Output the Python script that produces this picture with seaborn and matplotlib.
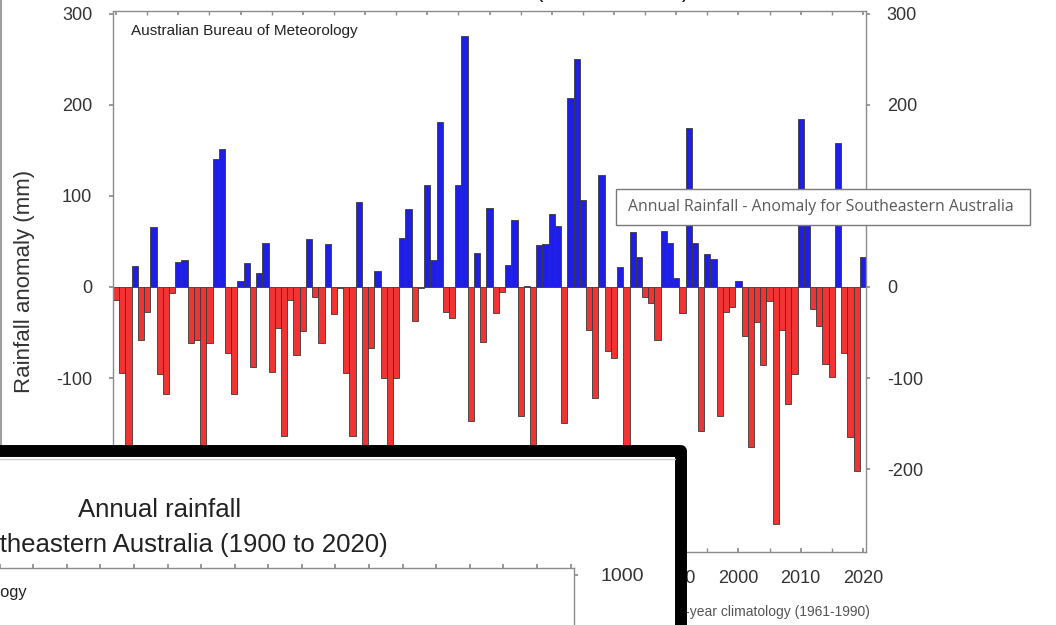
import numpy as np
import pandas as pd
import matplotlib
matplotlib.use("agg")
import matplotlib.pyplot as plt
import seaborn as sns
from matplotlib.patches import Rectangle
from matplotlib.lines import Line2D

W, H = 1056, 625

years = list(range(1900, 2021))
anomaly = [
    -14, -94, -225, 23, -58, -28, 66, -96, -118, -7,
    27, 30, -61, -58, -235, -62, 140, 151, -72, -118,
    7, 26, -88, 15, 48, -93, -45, -164, -14, -75,
    -48, 53, -11, -62, 47, -30, -1, -94, -164, 93,
    -205, -67, 17, -100, -215, -100, 54, 86, -37, -1,
    112, 30, 181, -27, -34, 112, 276, -147, 37, -60,
    87, -29, -6, 24, 73, -142, 1, -200, 46, 47,
    80, 67, -149, 207, 250, 95, -47, -122, 123, -70,
    -78, 22, -215, 60, 33, -11, -18, -58, 61, 48,
    10, -29, 175, 48, -158, 36, 31, -142, -27, -22,
    7, -54, -176, -39, -86, -15, -260, -47, -129, -96,
    184, 95, -24, -43, -85, -99, 158, -73, -165, -202,
    33,
]
y_ticks = [-200, -100, 0, 100, 200, 300]
x_labels = list(range(1900, 2021, 10))

TITLE = "Southeastern Australia (1900 to 2020)"
TOOLTIP = "Annual Rainfall - Anomaly for Southeastern Australia"
SOURCE = "Australian Bureau of Meteorology"
NOTE = "Rainfall anomaly relative to 30-year climatology (1961-1990)"

BLUE = "#1e1ee6"
RED = "#f03434"
GREY = "#8c8c8c"
TXT = "#333333"


def px(x0, y0, x1, y1):
    # pixel box (top-left origin) -> figure rect
    return [x0 / W, 1 - y1 / H, (x1 - x0) / W, (y1 - y0) / H]


df = pd.DataFrame({"year": years, "anomaly": anomaly})
df["sign"] = np.where(df["anomaly"] >= 0, "wet", "dry")

sns.set_theme(style="white")
plt.rcParams["font.family"] = ["Liberation Sans", "DejaVu Sans"]
plt.rcParams["axes.unicode_minus"] = False

fig = plt.figure(figsize=(W / 100, H / 100), dpi=100)

# main anomaly chart
ax = fig.add_axes(px(113, 11, 866, 552))
sns.barplot(data=df, x="year", y="anomaly", hue="sign",
            palette={"wet": BLUE, "dry": RED}, native_scale=True,
            width=1.0, dodge=False, legend=False, errorbar=None,
            saturation=1, edgecolor="#3a3a3a", linewidth=0.6, ax=ax)
ax.set_xlim(1899.5, 2020.5)
ax.set_ylim(-291, 303)
ax.set_xticks(x_labels)
ax.set_xticklabels([str(x) for x in x_labels])
ax.set_xticks(range(1905, 2021, 10), minor=True)
ax.set_yticks(y_ticks)
ax.set_yticklabels([str(v) for v in y_ticks])
for s in ax.spines.values():
    s.set_color(GREY)
    s.set_linewidth(1.0)
ax.tick_params(axis="x", which="both", direction="in", top=True, bottom=True,
               length=3, color=GREY, labelsize=13, labelcolor=TXT, pad=13)
ax.tick_params(axis="y", direction="out", left=True, right=True,
               labelleft=True, labelright=True, length=3, color=GREY,
               labelsize=13, labelcolor=TXT, pad=12)
for t, v in zip(ax.yaxis.get_major_ticks(), y_ticks):
    if v == 100:
        # hidden behind the tooltip in the screenshot
        t.label2.set_visible(False)
ax.set_xlabel("")
ax.set_ylabel("Rainfall anomaly (mm)", fontsize=16, color=TXT)
ax.yaxis.set_label_coords(-0.103, 0.5)
ax.text(0.024, 0.963, SOURCE, transform=ax.transAxes, ha="left",
        va="center", fontsize=11, color="#222222")
ax.text(870 / W, 1 - 612 / H, NOTE, transform=fig.transFigure, ha="right",
        va="center", fontsize=10, color="#555555", clip_on=False)
ax.text(490 / W, 1 + 3 / H, TITLE, transform=fig.transFigure, ha="center",
        va="baseline", fontsize=17, color="#222222", clip_on=False)

# screen edge on the left
fig.add_artist(Line2D([1 / W, 1 / W], [1 - 445 / H, 1], color="#a0a0a0",
                      lw=1.5, zorder=1))

# overlapping second window
panel = Rectangle((-30 / W, 1 - 720 / H), 711 / W, 269.5 / H,
                  transform=fig.transFigure, facecolor="white",
                  edgecolor="black", linewidth=8.6, joinstyle="round",
                  zorder=1)
fig.add_artist(panel)
fig.add_artist(Line2D([0, 675 / W], [1 - 459 / H, 1 - 459 / H],
                      color="#cccccc", lw=1, zorder=1.5))

ia = fig.add_axes(px(-239, 568, 574, 1100), zorder=2)
ia.set_facecolor("none")
ia.set_xlim(1899.5, 2020.5)
ia.set_ylim(0, 1013)
ia.set_xticks(range(1900, 2021, 5))
ia.set_xticklabels([])
ia.set_yticks([1000])
ia.set_yticklabels(["1000"])
ia.xaxis.tick_top()
ia.yaxis.tick_right()
for side in ["left", "bottom"]:
    ia.spines[side].set_visible(False)
for side in ["top", "right"]:
    ia.spines[side].set_color(GREY)
    ia.spines[side].set_linewidth(1.0)
ia.tick_params(axis="x", direction="out", length=3, color=GREY)
ia.tick_params(axis="y", direction="out", length=3, color=GREY,
               labelsize=14, labelcolor=TXT, pad=16)
ia.text(27 / W, 1 - 592 / H, SOURCE, transform=fig.transFigure, ha="right",
        va="center", fontsize=11.8, color="#222222")

fig.text(160 / W, 1 - 510 / H, "Annual rainfall", ha="center", va="center",
         fontsize=18.5, color="#222222")
fig.text(388 / W, 1 - 545 / H, TITLE, ha="right", va="center",
         fontsize=18.5, color="#222222")

# hover tooltip
fig.add_artist(Rectangle((616 / W, 1 - 225 / H), 414 / W, 36 / H,
                         transform=fig.transFigure, facecolor="white",
                         edgecolor="#7a7a7a", linewidth=1, zorder=4))
fig.text(628 / W, 1 - 207 / H, TOOLTIP, ha="left", va="center",
         fontsize=11.3, family=["Open Sans", "DejaVu Sans"], color="#5a5a5a",
         zorder=5)

fig.savefig("out.png", dpi=100)
